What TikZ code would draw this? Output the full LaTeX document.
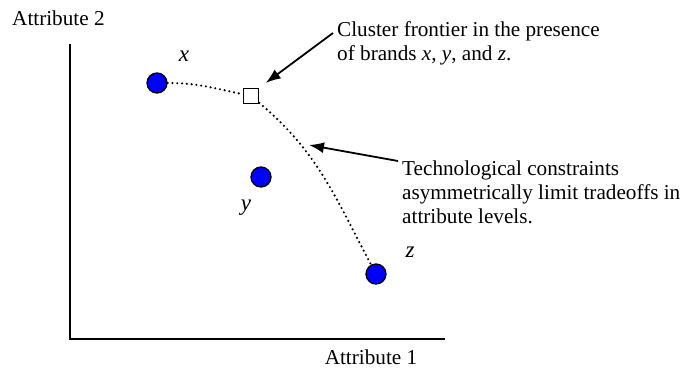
\documentclass[tikz,border=0pt]{standalone}
\usepackage{fontspec}
\setmainfont{Liberation Serif}
\usetikzlibrary{arrows.meta}
\tikzset{
  brand/.style={circle, draw=black, fill=blue, line width=1.3pt,
    minimum size=20pt, inner sep=0pt},
  frontpt/.style={rectangle, draw=black, fill=white, line width=1.6pt,
    minimum size=15pt, inner sep=0pt},
  axis/.style={line width=1.8pt},
  frontier/.style={line width=2.4pt, dash pattern=on 0pt off 4.8pt, line cap=round},
  callout/.style={-{Latex[length=15pt, width=11pt]}, line width=1.8pt},
  note/.style={align=left, anchor=north west, inner sep=0pt,
    font=\fontsize{21.2}{24}\selectfont},
  axislabel/.style={inner sep=0pt, font=\fontsize{21.2}{24}\selectfont},
  brandlabel/.style={inner sep=0pt, font=\fontsize{23}{26}\selectfont\itshape},
}

\begin{document}
\begin{tikzpicture}[x=1pt, y=-1pt]
  \useasboundingbox (0,0) rectangle (700,373);

  % axes
  \coordinate (ytop) at (70,44);
  \coordinate (origin) at (70,339);
  \coordinate (xend) at (445,339);
  \draw[axis] (ytop) -- (origin) -- (xend);
  \node[axislabel, anchor=west] (attrtwo) at (12,18) {Attribute 2};
  \node[axislabel] (attrone) at (371,357) {Attribute 1};

  % brands
  \node[brand] (bx) at (157,83) {};
  \node[brand] (by) at (261,177) {};
  \node[brand] (bz) at (376,274) {};
  \node[brandlabel] (lx) at (184,56) {x};
  \node[brandlabel] (ly) at (246,208) {y};
  \node[brandlabel] (lz) at (410,252) {z};

  % frontier
  \node[frontpt] (sq) at (251,96) {};
  \draw[frontier] (bx) to[out=0, in=168] (sq);
  \draw[frontier] (sq) to[out=-40, in=118] (bz);

  % notes
  \node[note] (clnote) at (337,21)
    {Cluster frontier in the presence\\of brands \textit{x}, \textit{y}, and \textit{z}.};
  \node[note] (technote) at (402,161)
    {Technological constraints\\asymmetrically limit tradeoffs in\\attribute levels.};

  \coordinate (cfrom) at (333,33);
  \coordinate (tfrom) at (398,161);
  \coordinate (tto) at (309,145);
  \draw[callout, shorten >=8pt] (cfrom) -- (sq.north east);
  \draw[callout] (tfrom) -- (tto);
\end{tikzpicture}
\end{document}
